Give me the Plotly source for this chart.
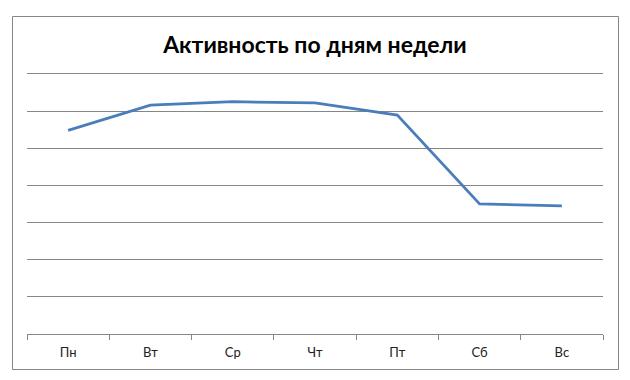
import plotly.graph_objects as go

days = ["Пн", "Вт", "Ср", "Чт", "Пт", "Сб", "Вс"]
activity = [54.8, 61.6, 62.5, 62.2, 58.9, 35.0, 34.5]
title_text = "Активность по дням недели"

W, H = 630, 380
L, R, T, B = 27, 27, 72, 46
pw, ph = W - L - R, H - T - B

def px_to_paper_x(px):
    return (px - L) / pw

def px_to_paper_y(py):
    return (H - B - py) / ph

fig = go.Figure()
fig.add_trace(go.Scatter(
    x=days, y=activity, mode="lines",
    line=dict(color="#4A7EBB", width=2.75),
    hoverinfo="skip", showlegend=False,
))

fig.update_layout(
    width=W, height=H,
    margin=dict(l=L, r=R, t=T, b=B),
    paper_bgcolor="white", plot_bgcolor="white",
    title=dict(text=title_text, x=0.5, xanchor="center", y=1 - 45 / H, yanchor="middle",
               font=dict(family="Lato", size=23, color="black", weight="bold")),
    xaxis=dict(type="category", range=[-0.5, 6.5], tickson="boundaries",
               ticks="outside", ticklen=5, tickcolor="#868686", showline=True,
               linecolor="#868686", linewidth=1, showgrid=False,
               ticklabelstandoff=6,
               tickfont=dict(family="Lato", size=13, color="#222222")),
    yaxis=dict(range=[0, 70.5], dtick=10, showticklabels=False, showgrid=True,
               gridcolor="#868686", gridwidth=1, zeroline=False, showline=False),
    shapes=[dict(type="rect", xref="paper", yref="paper",
                 x0=px_to_paper_x(12.5), x1=px_to_paper_x(618.5),
                 y0=px_to_paper_y(369.5), y1=px_to_paper_y(16.5),
                 line=dict(color="#868686", width=1), layer="below")],
)

fig.write_html("out.html")
